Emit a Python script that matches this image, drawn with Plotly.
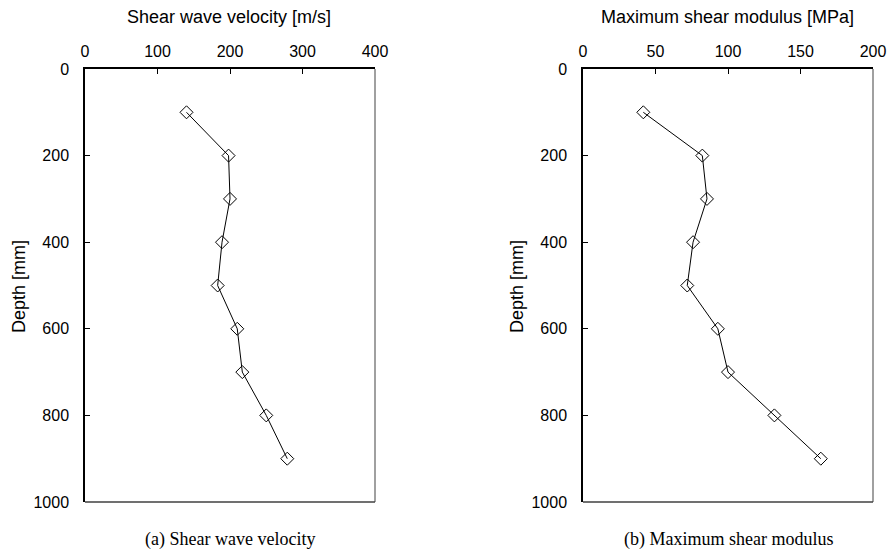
import plotly.graph_objects as go

depth = [100, 200, 300, 400, 500, 600, 700, 800, 900]
vs = [140, 198, 200, 189, 183, 210, 217, 250, 279]
gmax = [41.6, 82.3, 85.5, 75.9, 71.9, 93, 100, 132, 164]

x_title_a = "Shear wave velocity [m/s]"
x_title_b = "Maximum shear modulus [MPa]"
y_title = "Depth [mm]"
cap_a = "(a) Shear wave velocity"
cap_b = "(b) Maximum shear modulus"

W, H = 890, 560
FONT = "Liberation Sans, Arial, sans-serif"
SERIF = "Liberation Serif, Times New Roman, serif"

def px(x):
    return x / W

def py(y):
    return 1 - y / H

fig = go.Figure()

marker = dict(symbol="diamond-open", size=10, color="black", line=dict(width=1, color="black"))
fig.add_trace(go.Scatter(x=vs, y=depth, mode="lines+markers", line=dict(color="black", width=1),
                         marker=marker, xaxis="x", yaxis="y", showlegend=False))
fig.add_trace(go.Scatter(x=gmax, y=depth, mode="lines+markers", line=dict(color="black", width=1),
                         marker=marker, xaxis="x2", yaxis="y2", showlegend=False))

ydom = [py(502), py(69)]
common_x = dict(side="top", showgrid=False, zeroline=False, showline=True, linecolor="black", linewidth=1.5,
                ticks="inside", ticklen=5, tickcolor="black", automargin=False,
                tickfont=dict(family=FONT, size=16, color="black"), ticklabelstandoff=4)
common_y = dict(autorange=False, range=[1000, 0], showgrid=False, zeroline=False, showline=True,
                linecolor="black", linewidth=1.5, ticks="inside", ticklen=5, tickcolor="black",
                tickvals=[0, 200, 400, 600, 800, 1000], automargin=False,
                tickfont=dict(family=FONT, size=16, color="black"), ticklabelstandoff=11)

fig.update_layout(
    width=W, height=H, margin=dict(l=0, r=0, t=0, b=0, autoexpand=False),
    paper_bgcolor="white", plot_bgcolor="white",
    xaxis=dict(domain=[px(85), px(375)], range=[0, 400], tickvals=[0, 100, 200, 300, 400], anchor="y", **common_x),
    yaxis=dict(domain=ydom, anchor="x", **common_y),
    xaxis2=dict(domain=[px(583), px(873)], range=[0, 200], tickvals=[0, 50, 100, 150, 200], anchor="y2", **common_x),
    yaxis2=dict(domain=ydom, anchor="x2", **common_y),
)

# right and bottom frame edges (grey)
for xr, yr in (("x", "y"), ("x2", "y2")):
    fig.add_shape(type="line", xref=f"{xr} domain", yref=f"{yr} domain", x0=1, x1=1, y0=0, y1=1,
                  line=dict(color="#808080", width=1.5))
    fig.add_shape(type="line", xref=f"{xr} domain", yref=f"{yr} domain", x0=0, x1=1, y0=0, y1=0,
                  line=dict(color="#404040", width=1.5))

ann = [
    dict(text=x_title_a, x=px(229), y=py(17), font=dict(family=FONT, size=18)),
    dict(text=x_title_b, x=px(727), y=py(17), font=dict(family=FONT, size=18)),
    dict(text=y_title, x=px(19), y=py(287), textangle=-90, font=dict(family=FONT, size=18)),
    dict(text=y_title, x=px(517), y=py(287), textangle=-90, font=dict(family=FONT, size=18)),
    dict(text=cap_a, x=px(230), y=py(539), font=dict(family=SERIF, size=18)),
    dict(text=cap_b, x=px(728), y=py(539), font=dict(family=SERIF, size=18)),
]
for a in ann:
    a["font"]["color"] = "black"
    fig.add_annotation(xref="paper", yref="paper", showarrow=False, xanchor="center", yanchor="middle", **a)

fig.write_html("out.html", config={"displayModeBar": False},
               post_script="document.body.style.margin='0px';document.body.style.padding='0px';")
